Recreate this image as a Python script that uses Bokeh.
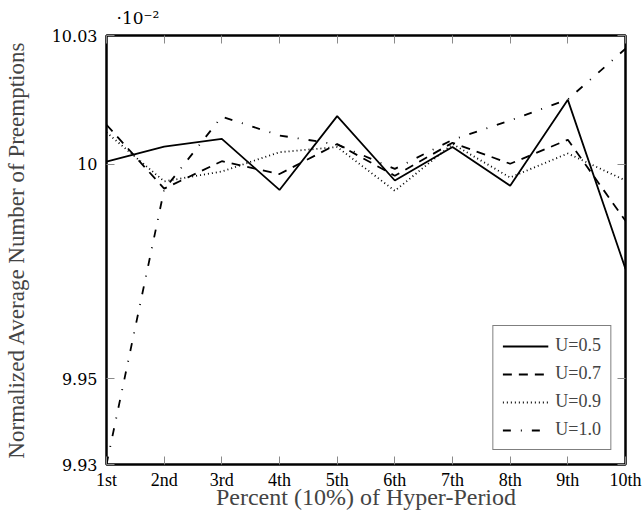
from bokeh.plotting import figure
from bokeh.models import Range1d, FixedTicker, LinearAxis, Legend, LegendItem, CustomLabelingPolicy
from bokeh.embed import file_html
from bokeh.resources import INLINE

# ---- data ----
positions = [1, 2, 3, 4, 5, 6, 7, 8, 9, 10]
x_labels = ["1st", "2nd", "3rd", "4th", "5th", "6th", "7th", "8th", "9th", "10th"]
y_ticks = [9.93, 9.95, 10.0, 10.03]
y_tick_labels = ["9.93", "9.95", "10", "10.03"]
series_names = ["U=0.5", "U=0.7", "U=0.9", "U=1.0"]
u05 = [10.0006, 10.0041, 10.0059, 9.9940, 10.0112, 9.9962, 10.0040, 9.9950, 10.0150, 9.9756]
u07 = [10.0092, 9.9943, 10.0007, 9.9977, 10.0047, 9.9973, 10.0050, 10.0001, 10.0057, 9.9868]
u09 = [10.0074, 9.9960, 9.9983, 10.0028, 10.0040, 9.9938, 10.0047, 9.9969, 10.0025, 9.9962]
u10 = [9.9300, 9.9941, 10.0111, 10.0067, 10.0046, 9.9989, 10.0057, 10.0102, 10.0151, 10.0269]
series = [u05, u07, u09, u10]
dashes = ["solid", "9 7", "1 3", "8 10 1 10"]
multiplier = "·10⁻²"

SERIF = "Liberation Serif"
NUM = "DejaVu Serif"

p = figure(width=642, height=529, output_backend="svg", toolbar_location=None,
           x_range=Range1d(1, 10), y_range=Range1d(9.93, 10.03),
           min_border_left=106, min_border_right=17, min_border_top=35, min_border_bottom=65)

p.outline_line_color = "black"
p.outline_line_width = 2.5
p.xgrid.grid_line_color = None
p.ygrid.grid_line_color = None
p.background_fill_color = "white"
p.border_fill_color = "white"

# multiplier shown as a left-aligned title above the frame
p.title.text = multiplier
p.title.align = "left"
p.title.offset = 10
p.title.standoff = 8
p.title.text_font = NUM
p.title.text_font_size = "17px"
p.title.text_font_style = "normal"
p.title.text_color = "black"

x_over = {pos: lab for pos, lab in zip(positions, x_labels)}
y_over = {t: lab for t, lab in zip(y_ticks, y_tick_labels)}

hide_all = CustomLabelingPolicy(code="for (let i = 0; i < indices.size; i++) { indices.unset(i) } return indices")

def style_axis(ax, show_labels):
    ax.axis_line_color = None
    ax.major_tick_in = 8
    ax.major_tick_out = 0
    ax.minor_tick_line_color = None
    ax.major_tick_line_color = "#8a8a8a"
    ax.major_tick_line_width = 1
    if not show_labels:
        ax.major_label_text_font_size = "1px"
        ax.major_label_standoff = 0
        ax.major_label_policy = hide_all

# bottom axis
xa = p.xaxis[0]
xa.ticker = FixedTicker(ticks=positions)
xa.major_label_overrides = x_over
xa.major_label_text_font = SERIF
xa.major_label_text_font_size = "18px"
xa.major_label_text_color = "black"
xa.major_label_standoff = 5
xa.axis_label = "Percent (10%) of Hyper-Period"
xa.axis_label_text_font = SERIF
xa.axis_label_text_font_style = "normal"
xa.axis_label_text_font_size = "24px"
xa.axis_label_standoff = -9
style_axis(xa, True)

# left axis
ya = p.yaxis[0]
ya.ticker = FixedTicker(ticks=y_ticks)
ya.major_label_overrides = y_over
ya.major_label_text_font = NUM
ya.major_label_text_font_size = "16px"
ya.major_label_text_color = "black"
ya.major_label_standoff = 9
ya.axis_label = "Normalized Average Number of Preemptions"
ya.axis_label_text_font = SERIF
ya.axis_label_text_font_style = "normal"
ya.axis_label_text_font_size = "23px"
ya.axis_label_standoff = 20
style_axis(ya, True)

# top and right tick-only axes
top = LinearAxis(ticker=FixedTicker(ticks=positions))
style_axis(top, False)
p.add_layout(top, "above")
right = LinearAxis(ticker=FixedTicker(ticks=y_ticks))
style_axis(right, False)
p.add_layout(right, "right")

items = []
for name, ys, dash in zip(series_names, series, dashes):
    r = p.line(positions, ys, line_color="black", line_width=1.8, line_dash=dash)
    items.append(LegendItem(label=name, renderers=[r]))

legend = Legend(items=items, location="bottom_right")
legend.border_line_color = "black"
legend.border_line_width = 1.5
legend.label_text_font = SERIF
legend.label_text_font_size = "18px"
legend.glyph_width = 46
legend.glyph_height = 20
legend.label_height = 20
legend.spacing = 7
legend.padding = 9
legend.label_standoff = 7
legend.margin = 14
p.add_layout(legend)

open("out.html", "w").write(file_html(p, INLINE))
